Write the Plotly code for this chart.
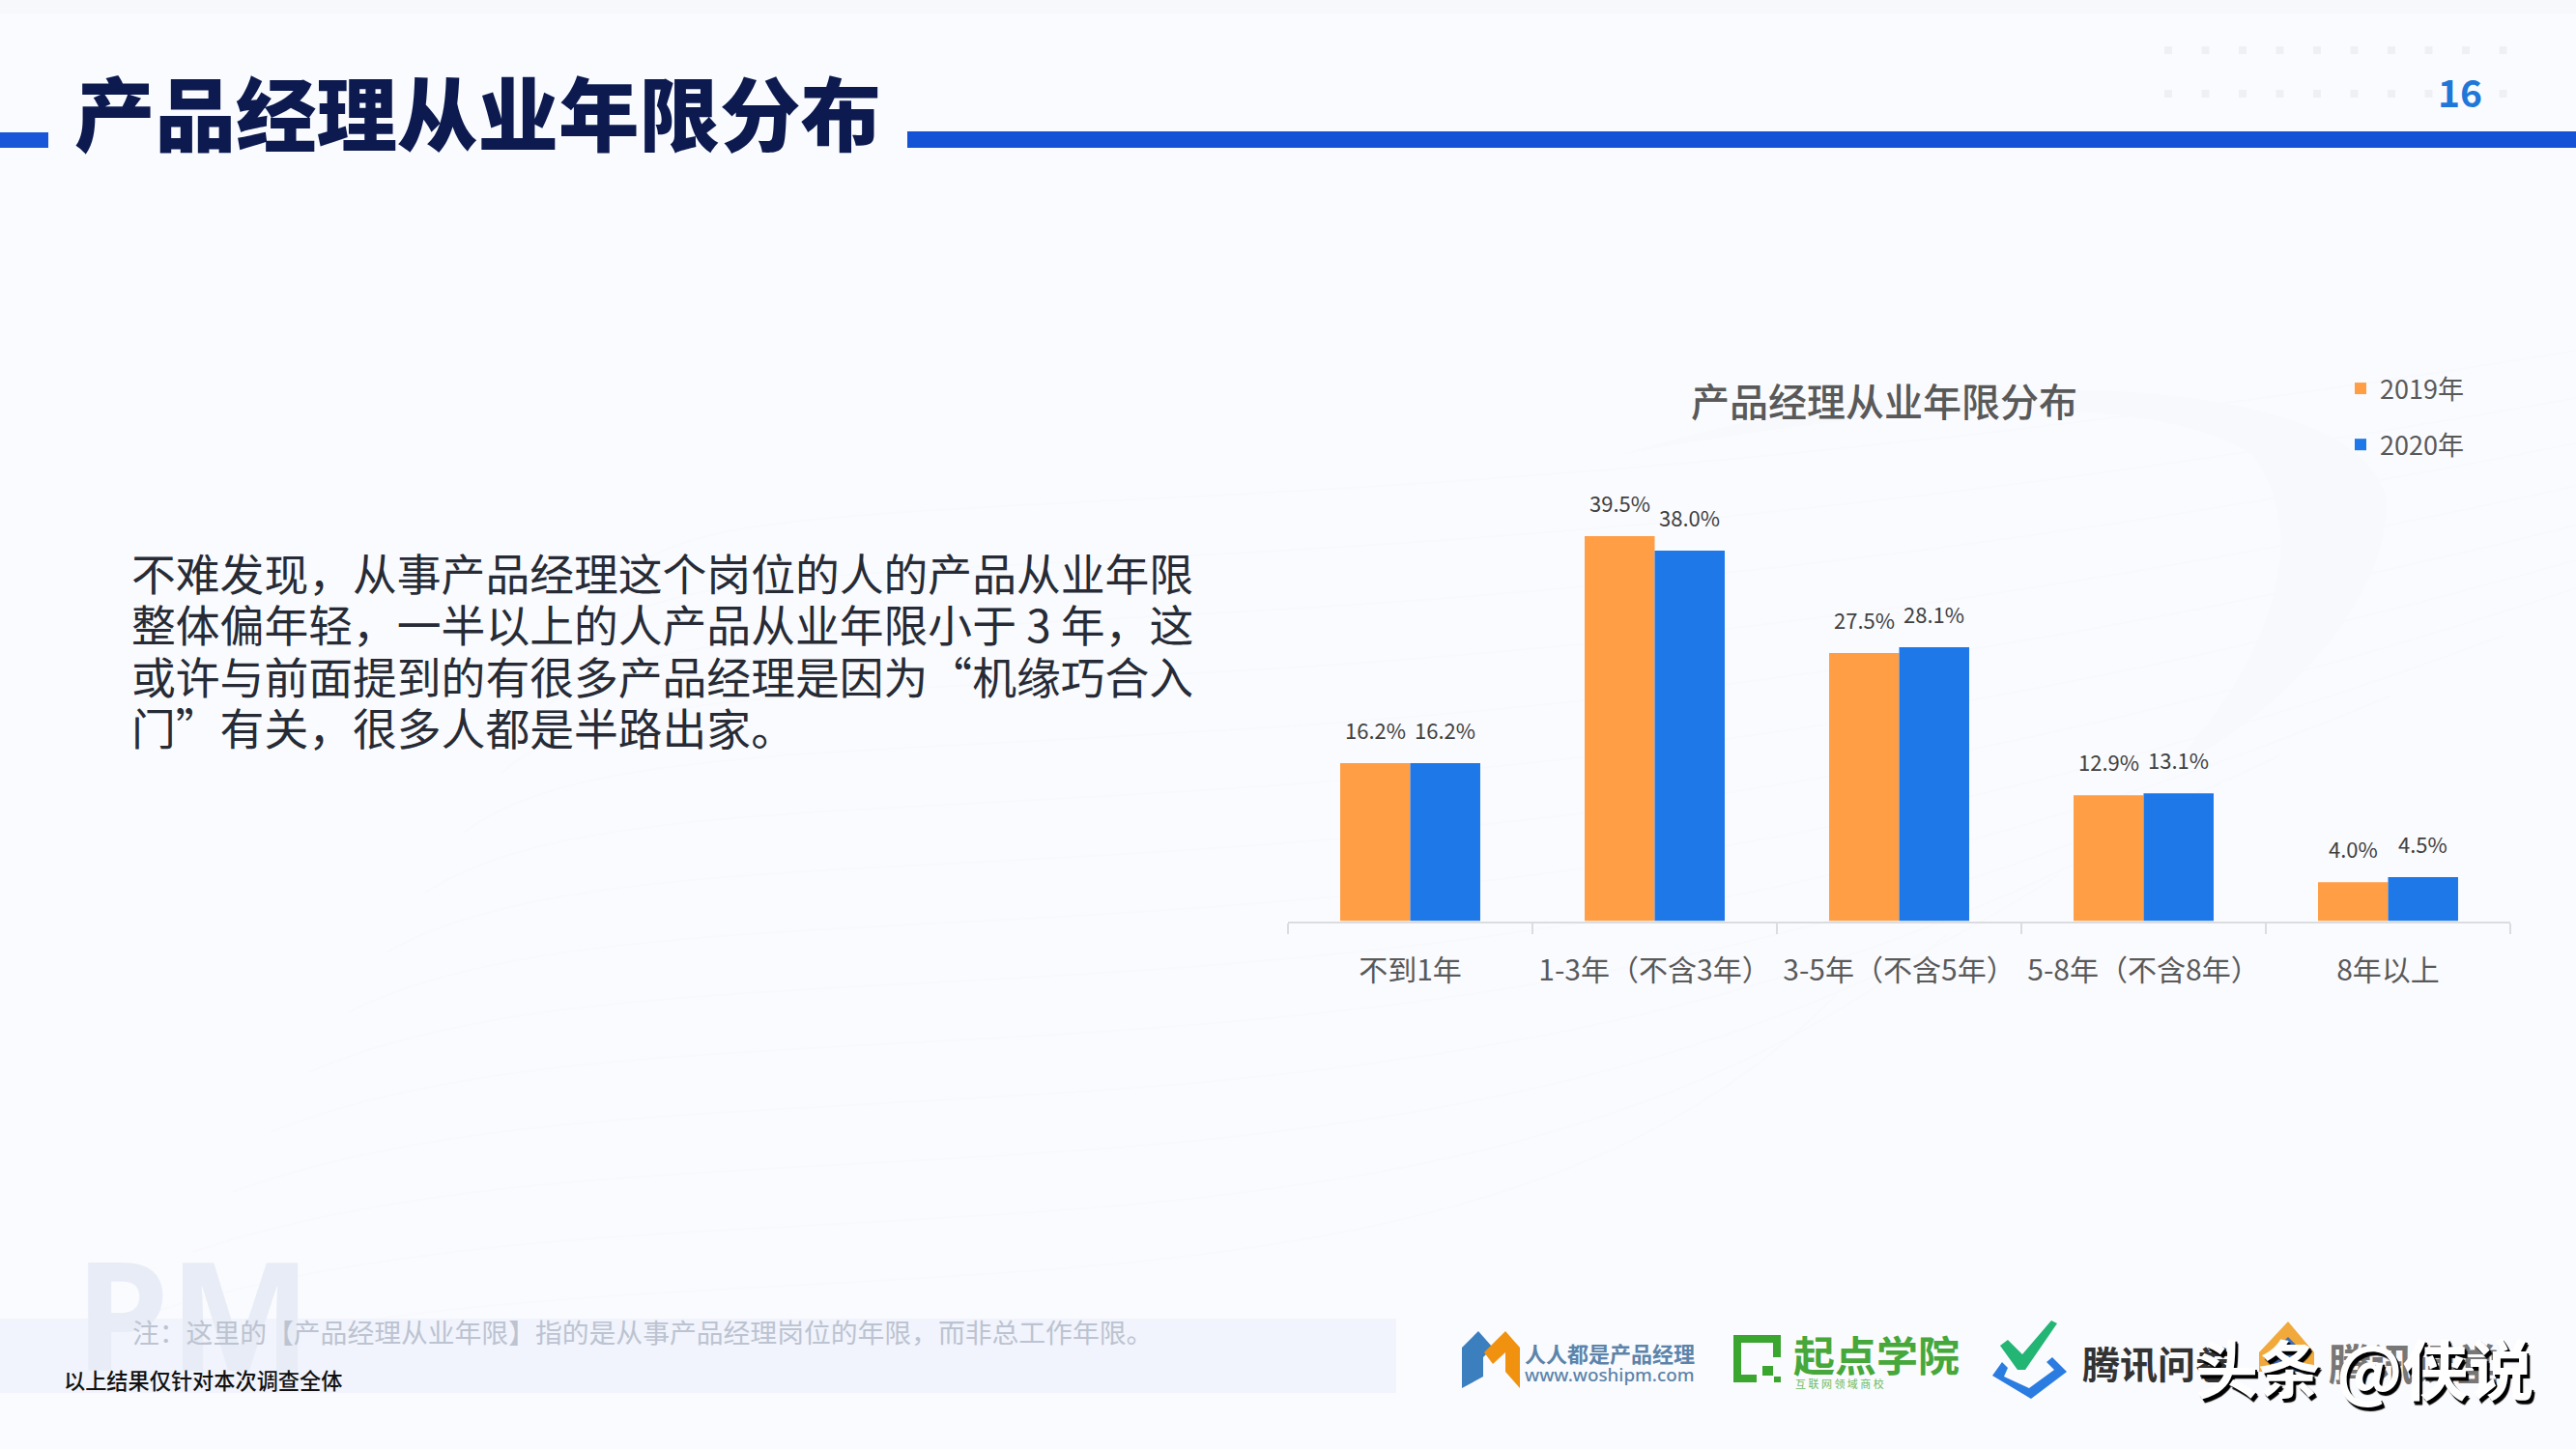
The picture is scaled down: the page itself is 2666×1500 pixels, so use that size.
"""
产品经理从业年限分布 - PPT 页面复刻
"""
import plotly.graph_objects as go

W, H = 2666, 1500
FONT = "Noto Sans CJK SC"

categories = ["不到1年", "1-3年（不含3年）", "3-5年（不含5年）", "5-8年（不含8年）", "8年以上"]
series = {
    "2019年": {"values": [16.2, 39.5, 27.5, 12.9, 4.0], "color": "#FF9E45"},
    "2020年": {"values": [16.2, 38.0, 28.1, 13.1, 4.5], "color": "#1E78E8"},
}

body_lines = [
    ("不难发现，从事产品经理这个岗位的人的产品从业年限", 592),
    ("整体偏年轻，一半以上的人产品从业年限小于 3 年，这", 645),
    ("或许与前面提到的有很多产品经理是因为“机缘巧合入", 699),
    ("门”有关，很多人都是半路出家。", 752),
]


def px(x):
    return x / W


def py(y):
    return 1 - y / H


def text(fig, x, y, s, size, color, anchor="left", weight=400, family=FONT, **kw):
    """页面像素坐标放文字"""
    fig.add_annotation(
        xref="paper", yref="paper", x=px(x), y=py(y), text=s, showarrow=False,
        xanchor=anchor, yanchor="middle",
        font=dict(family=family, size=size, color=color, weight=weight, **kw),
        borderpad=0, borderwidth=0,
    )


def rect(fig, x0, y0, x1, y1, color, layer="below"):
    fig.add_shape(type="rect", xref="paper", yref="paper", x0=px(x0), x1=px(x1),
                  y0=py(y0), y1=py(y1), fillcolor=color, line_width=0, layer=layer)


def poly(fig, pts, color, layer="below"):
    path = "M " + " L ".join(f"{px(x):.5f},{py(y):.5f}" for x, y in pts) + " Z"
    fig.add_shape(type="path", xref="paper", yref="paper", path=path,
                  fillcolor=color, line_width=0, layer=layer)


def add_background(fig):
    rect(fig, 0, 0, W, 14, "#F7F8FB")
    # 浅色波浪底纹
    for i in range(14):
        y = 1290 - i * 62
        x_end = 1000 + i * 115
        fig.add_shape(type="path", xref="paper", yref="paper",
                      path=(f"M {px(120 + i * 40):.4f},{py(y + 130):.4f} "
                            f"C {px(700):.4f},{py(y - 40):.4f} {px(1500):.4f},{py(y + 150):.4f} "
                            f"{px(x_end + 900):.4f},{py(y - 260):.4f}"),
                      line=dict(color="#F8F9FD", width=2), layer="below")
    fig.add_shape(type="path", xref="paper", yref="paper",
                  path=(f"M {px(1680):.4f},{py(470):.4f} C {px(2000):.4f},{py(370):.4f} "
                        f"{px(2450):.4f},{py(380):.4f} {px(2470):.4f},{py(520):.4f} "
                        f"C {px(2470):.4f},{py(640):.4f} {px(2330):.4f},{py(760):.4f} {px(2240):.4f},{py(800):.4f} "
                        f"C {px(2340):.4f},{py(700):.4f} {px(2400):.4f},{py(560):.4f} {px(2330):.4f},{py(470):.4f} "
                        f"C {px(2220):.4f},{py(400):.4f} {px(1950):.4f},{py(420):.4f} {px(1680):.4f},{py(470):.4f} Z"),
                  fillcolor="#F7F9FD", line_width=0, layer="below")
    # 右上角点阵
    for row_y in (52, 97):
        for i in range(10):
            rect(fig, 2244 + i * 38.5 - 4, row_y - 4, 2244 + i * 38.5 + 4, row_y + 4, "#EEF0F4")


def add_header(fig):
    rect(fig, 0, 137, 50, 153, "#1A56D8")
    rect(fig, 939, 136, W, 153, "#1452D6")
    text(fig, 77, 113, "产品经理从业年限分布", 83.5, "#0C1A4F", weight=900)
    text(fig, 2546, 94, "16", 39, "#1F78D8", anchor="center", weight=700)


def add_body(fig):
    for line, y in body_lines:
        text(fig, 136, y, line, 45.8, "#262B36", weight=400)


def add_footer(fig):
    rect(fig, 0, 1365, 1445, 1442, "#F1F4FC")
    text(fig, 78, 1358, "PM", 156, "#E7ECF6", weight=700, family="Noto Sans")
    text(fig, 137, 1378, "注：这里的【产品经理从业年限】指的是从事产品经理岗位的年限，而非总工作年限。", 27.8, "#BCC3D1")
    text(fig, 66, 1428, "以上结果仅针对本次调查全体", 22.2, "#111111", weight=500)


def add_logos(fig):
    # 人人都是产品经理
    poly(fig, [(1513, 1437), (1513, 1395), (1530, 1378), (1545, 1395), (1535, 1405), (1535, 1425)], "#3B7FBF")
    poly(fig, [(1536, 1400), (1558, 1378), (1573, 1395), (1573, 1437), (1558, 1420), (1558, 1400), (1545, 1412)], "#F0920F")
    text(fig, 1578, 1400, "人人都是产品经理", 22, "#5C84AA", weight=700)
    text(fig, 1578, 1423, "www.woshipm.com", 18.8, "#5C84AA", weight=500, family="Noto Sans")
    # 起点学院
    poly(fig, [(1794, 1382), (1843, 1382), (1843, 1405), (1835, 1405), (1835, 1390), (1802, 1390),
               (1802, 1423), (1818, 1423), (1818, 1431), (1794, 1431)], "#3AA52F")
    rect(fig, 1824, 1414, 1835, 1424, "#3AA52F")
    rect(fig, 1836, 1425, 1843, 1431, "#3AA52F")
    text(fig, 1856, 1401, "起点学院", 43, "#46A83A", weight=700)
    text(fig, 1858, 1432, "互 联 网 领 域 商 校", 11, "#6CBB62")
    # 腾讯问卷
    poly(fig, [(2070, 1393), (2078, 1387), (2093, 1402), (2123, 1367), (2129, 1370), (2096, 1418), (2088, 1418)], "#22B573")
    poly(fig, [(2062, 1424), (2072, 1410), (2078, 1416), (2074, 1425), (2100, 1437), (2126, 1418), (2118, 1410),
               (2124, 1405), (2139, 1420), (2102, 1448)], "#2B7CE0")
    text(fig, 2155, 1410, "腾讯问卷", 39, "#333333", weight=700)
    # 第四个 logo 被水印盖住，文字看不清，下面这段是估的
    poly(fig, [(2338, 1400), (2368, 1368), (2395, 1400), (2395, 1420), (2338, 1420)], "#F2A93B")
    poly(fig, [(2352, 1400), (2368, 1384), (2384, 1400), (2384, 1420), (2352, 1420)], "#3F6FB5")
    text(fig, 2410, 1410, "腾讯课堂", 44, "#777777", weight=700)
    # 水印：白字黑影
    shadow = "3px 4px 1px #000000, 2px 2px 0 #111111"
    text(fig, 2272, 1414, "头条", 65, "#FFFFFF", weight=700, shadow=shadow)
    text(fig, 2418, 1414, "@侠说", 68, "#FFFFFF", weight=700, shadow=shadow)


def create_chart(fig):
    n = len(categories)
    for i, (name, s) in enumerate(series.items()):
        fig.add_trace(go.Bar(
            x=categories, y=s["values"], name=name, legendgroup=name,
            marker=dict(color=s["color"], line_width=0),
            offsetgroup=str(i),
        ))
        # 数据标签（比柱顶高约 32px）
        for cat, v in zip(categories, s["values"]):
            fig.add_annotation(
                x=cat, y=v, xref="x", yref="y", text=f"{v:.1f}%", showarrow=False,
                xshift=-36 if i == 0 else 36, yshift=35, yanchor="middle",
                font=dict(family=FONT, size=22, color="#404040"),
            )

    fig.update_layout(barmode="group", bargap=0.427, bargroupgap=0)
    fig.update_xaxes(
        domain=[px(1333), px(2598)], range=[-0.5, n - 0.5], type="category",
        categoryorder="array", categoryarray=categories,
        showline=True, linecolor="#DADCE0", linewidth=2,
        ticks="outside", ticklen=11, tickcolor="#DADCE0", tickwidth=2,
        tickson="boundaries", showgrid=False, zeroline=False,
        tickfont=dict(family=FONT, size=30, color="#595959"), ticklabelstandoff=23,
    )
    fig.update_yaxes(
        domain=[py(953.5), py(499.5)], range=[0, 45], visible=False, showgrid=False,
    )
    text(fig, 1950, 414, "产品经理从业年限分布", 40, "#595959", anchor="center", weight=500)


def main():
    fig = go.Figure()
    add_background(fig)
    add_header(fig)
    add_body(fig)
    add_footer(fig)
    create_chart(fig)
    add_logos(fig)

    fig.update_layout(
        width=W, height=H, margin=dict(l=0, r=0, t=0, b=0),
        paper_bgcolor="#FAFBFE", plot_bgcolor="rgba(0,0,0,0)",
        font=dict(family=FONT),
        legend=dict(
            xref="paper", yref="paper", x=px(2423), y=py(378), xanchor="left", yanchor="top",
            font=dict(family=FONT, size=27, color="#595959"),
            tracegroupgap=20, bgcolor="rgba(0,0,0,0)", traceorder="grouped",
        ),
        showlegend=True,
    )
    fig.write_html("out.html", config={"displayModeBar": False},
                   post_script="document.body.style.margin='0';")


if __name__ == "__main__":
    main()
